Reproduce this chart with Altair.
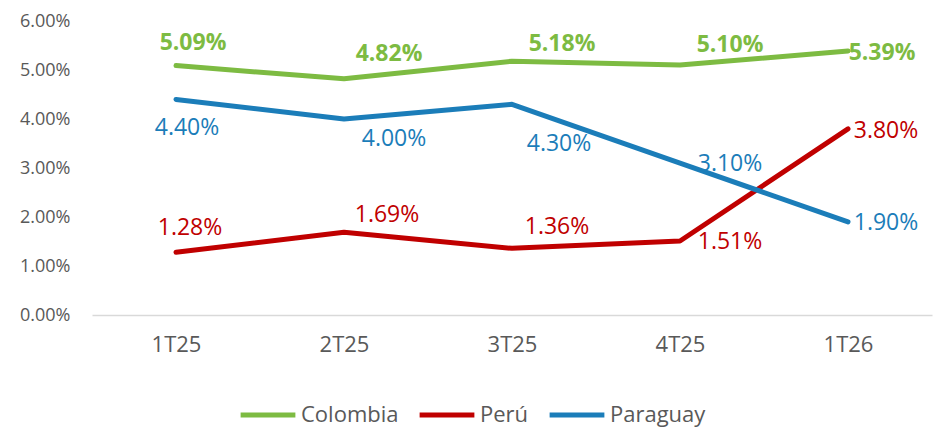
import altair as alt
import pandas as pd

periods = ["1T25", "2T25", "3T25", "4T25", "1T26"]
series = ["Colombia", "Perú", "Paraguay"]
colombia = [5.09, 4.82, 5.18, 5.10, 5.39]
peru = [1.28, 1.69, 1.36, 1.51, 3.80]
paraguay = [4.40, 4.00, 4.30, 3.10, 1.90]
colors = ["#7DBB42", "#C00000", "#1B7DB9"]

rows = []
for name, vals in zip(series, [colombia, peru, paraguay]):
    for p, v in zip(periods, vals):
        rows.append({"serie": name, "periodo": p, "valor": v / 100})
df = pd.DataFrame(rows)

# label offsets (style) per series / period
offsets = {
    "Colombia": [(17, -23), (45, -25), (50, -17), (50, -20), (34, 2)],
    "Perú": [(14, -24), (43, -17), (45, -21), (50, 1), (38, 2)],
    "Paraguay": [(11, 29), (50, 20), (47, 40), (50, 1), (38, 1)],
}

FONT = "Open Sans"
x = alt.X("periodo:N", sort=periods, title=None,
          scale=alt.Scale(paddingInner=0, paddingOuter=0),
          axis=alt.Axis(labelAngle=0, ticks=False, domainColor="#D9D9D9", domainWidth=1.5,
                        labelFont=FONT, labelFontSize=22, labelColor="#595959", labelPadding=19))
y = alt.Y("valor:Q", title=None,
          scale=alt.Scale(domain=[0, 0.06], nice=False),
          axis=alt.Axis(format=".2%", values=[0, 0.01, 0.02, 0.03, 0.04, 0.05, 0.06],
                        domain=False, ticks=False, grid=False,
                        labelFont=FONT, labelFontSize=18, labelColor="#595959", labelPadding=22))
color = alt.Color("serie:N", sort=series, scale=alt.Scale(domain=series, range=colors),
                  legend=alt.Legend(title=None, orient="none", direction="horizontal",
                                    legendX=146, legendY=364, symbolType="stroke",
                                    symbolSize=3000, symbolStrokeWidth=5,
                                    labelFont=FONT, labelFontSize=22, labelColor="#595959",
                                    columnPadding=10, labelOffset=3))

base = alt.Chart(df)
lines = base.mark_line(strokeWidth=5, strokeCap="round", strokeJoin="round").encode(
    x=x, y=y, color=color, order=alt.Order("serie:N"))

layers = [lines]
for i, name in enumerate(series):
    for j, p in enumerate(periods):
        dx, dy = offsets[name][j]
        layers.append(
            base.transform_filter(
                (alt.datum.serie == name) & (alt.datum.periodo == p)
            ).mark_text(
                dx=dx, dy=dy, font=FONT, fontSize=23,
                fontWeight="bold" if name == "Colombia" else "normal",
                color=colors[i],
            ).encode(x=x, y=y, text=alt.Text("valor:Q", format=".2%"))
        )

chart = alt.layer(*layers).properties(
    width=840, height=294,
    autosize=alt.AutoSizeParams(type="none"),
    padding={"left": 84, "top": 13, "right": 1, "bottom": 112},
).configure_view(stroke=None)

chart.save("out.html", embed_options={"renderer": "svg", "actions": False})
